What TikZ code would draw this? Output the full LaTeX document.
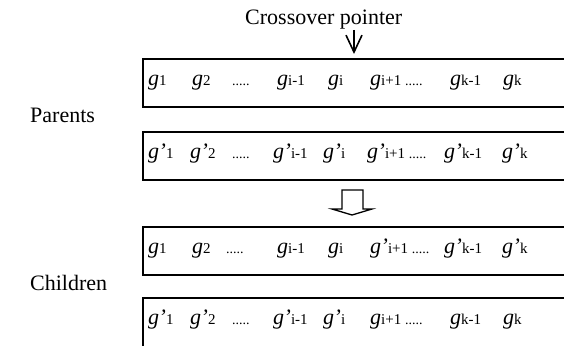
\documentclass[tikz,border=0pt]{standalone}
\usepackage{fontspec}
\setmainfont{Liberation Serif}
\usetikzlibrary{arrows.meta}
\newcommand{\gsub}[1]{\textit{g}{\fontsize{15}{15}\selectfont #1}}
\newcommand{\gpsub}[1]{\textit{g\kern-0.5pt’}{\fontsize{15}{15}\selectfont #1}}
\newcommand{\gdots}{{\fontsize{14}{14}\selectfont .....}}
\begin{document}
\begin{tikzpicture}[x=1pt,y=-1pt,
    every node/.style={inner sep=0pt,font=\fontsize{22}{26}\selectfont},
    gene/.style={anchor=base west},
    chrom/.style={draw,line width=1.4pt}]
    \clip (0,0) rectangle (564,345);
    % chromosomes
    \draw[chrom] (143,59) rectangle (600,107);
    \draw[chrom] (143,132) rectangle (600,180);
    \draw[chrom] (143,227) rectangle (600,275);
    \draw[chrom] (143,298) rectangle (600,380);
    % labels
    \node[anchor=base west] (parents) at (30,122) {Parents};
    \node[anchor=base west] (children) at (30,290) {Children};
    \node[anchor=base west] (ptr) at (245,25) {Crossover pointer};
    \coordinate (ptrtip) at (354,54);
    \draw[-{Straight Barb[length=17pt,width=16pt]}][line width=1.6pt] (ptr.south -| ptrtip) -- (ptrtip);
    % parent 1
    \node[gene] (a1) at (148,85) {\gsub{1}};
    \node[gene] (a2) at (192,85) {\gsub{2}};
    \node[gene] (a3) at (232,85) {\gdots};
    \node[gene] (a4) at (277,85) {\gsub{i-1}};
    \node[gene] (a5) at (328,85) {\gsub{i}};
    \node[gene] (a6) at (370,85) {\gsub{i+1}\,\gdots};
    \node[gene] (a7) at (450,85) {\gsub{k-1}};
    \node[gene] (a8) at (503,85) {\gsub{k}};
    % parent 2
    \node[gene] (b1) at (148,158) {\gpsub{1}};
    \node[gene] (b2) at (190,158) {\gpsub{2}};
    \node[gene] (b3) at (232,158) {\gdots};
    \node[gene] (b4) at (273,158) {\gpsub{i-1}};
    \node[gene] (b5) at (323,158) {\gpsub{i}};
    \node[gene] (b6) at (367,158) {\gpsub{i+1}\,\gdots};
    \node[gene] (b7) at (444,158) {\gpsub{k-1}};
    \node[gene] (b8) at (502,158) {\gpsub{k}};
    % crossover
    \draw[line width=1.3pt] (342,190) -- (342,209) -- (332,209) -- (352,215)
        -- (372,209) -- (363,209) -- (363,190) -- cycle;
    % child 1
    \node[gene] (c1) at (148,253) {\gsub{1}};
    \node[gene] (c2) at (192,253) {\gsub{2}};
    \node[gene] (c3) at (226,253) {\gdots};
    \node[gene] (c4) at (277,253) {\gsub{i-1}};
    \node[gene] (c5) at (328,253) {\gsub{i}};
    \node[gene] (c6) at (370,253) {\gpsub{i+1}\,\gdots};
    \node[gene] (c7) at (444,253) {\gpsub{k-1}};
    \node[gene] (c8) at (502,253) {\gpsub{k}};
    % child 2
    \node[gene] (d1) at (148,324) {\gpsub{1}};
    \node[gene] (d2) at (190,324) {\gpsub{2}};
    \node[gene] (d3) at (232,324) {\gdots};
    \node[gene] (d4) at (273,324) {\gpsub{i-1}};
    \node[gene] (d5) at (323,324) {\gpsub{i}};
    \node[gene] (d6) at (370,324) {\gsub{i+1}\,\gdots};
    \node[gene] (d7) at (450,324) {\gsub{k-1}};
    \node[gene] (d8) at (503,324) {\gsub{k}};
\end{tikzpicture}
\end{document}
